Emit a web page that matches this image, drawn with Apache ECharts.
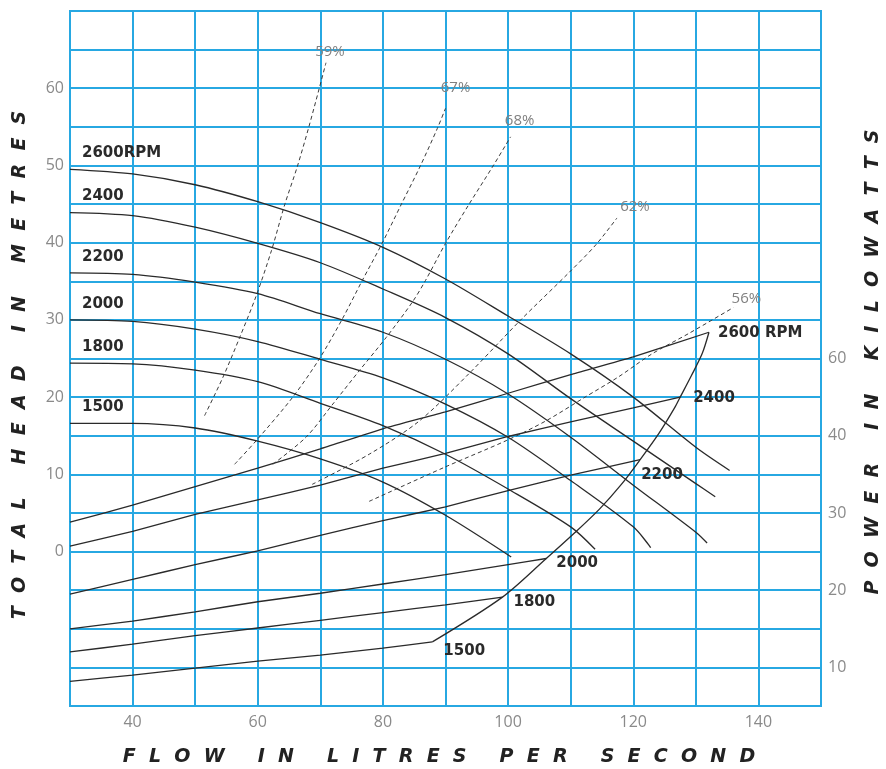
<!DOCTYPE html>
<html><head><meta charset="utf-8">
<script src="https://cdn.jsdelivr.net/npm/echarts@6/dist/echarts.min.js"></script>
<style>html,body{margin:0;padding:0;background:#fff}#c{width:886px;height:769px}</style>
</head><body><div id="c"></div>
<script>
// ---- Head curves (left axis, metres) ----
const head2600Flow = [30,40,50,60,70,80,90,100,110,120,130,135.4];
const head2600 = [49.5,48.9,47.5,45.3,42.6,39.4,35.3,30.5,25.6,20.0,13.5,10.5];
const head2400Flow = [30,40,50,60,70,80,90,100,110,120,130,133.1];
const head2400 = [43.9,43.5,42.0,39.9,37.4,34.0,30.3,25.6,19.8,14.3,8.8,7.1];
const head2200Flow = [30,40,50,60,70,80,90,100,110,120,130,131.8];
const head2200 = [36.1,35.9,34.9,33.4,30.8,28.4,24.9,20.4,14.8,8.6,2.5,1.1];
const head2000Flow = [30,40,50,60,70,80,90,100,110,120,122.8];
const head2000 = [30.0,29.8,28.8,27.2,24.9,22.5,19.1,14.8,9.2,3.2,0.5];
const head1800Flow = [30,40,50,60,70,80,90,100,110,113.9];
const head1800 = [24.4,24.3,23.5,22.0,19.2,16.3,12.6,8.1,3.2,0.3];
const head1500Flow = [30,40,50,60,70,80,90,100.5];
const head1500 = [16.6,16.6,16.0,14.3,12.0,9.0,4.7,-0.7];

// ---- Power curves (right axis, kW) ----
const power2600Flow = [30,40,50,60,70,80,90,100,110,120,132.1];
const power2600 = [28.8,31.0,33.4,35.8,38.3,40.9,43.1,45.5,47.9,50.2,53.4];
const power2400Flow = [30,40,50,60,70,80,90,100,110,120,127.5];
const power2400 = [25.7,27.6,29.8,31.7,33.6,35.8,37.7,39.9,41.8,43.6,45.0];
const power2200Flow = [30,40,50,60,70,80,90,100,110,121.1];
const power2200 = [19.5,21.4,23.3,25.1,27.1,29.0,30.8,32.9,34.9,36.9];
const power2000Flow = [30,40,50,60,70,80,90,100,106.1];
const power2000 = [15.0,16.0,17.2,18.5,19.6,20.8,22.0,23.3,24.1];
const power1800Flow = [30,40,50,60,70,80,90,99.1];
const power1800 = [12.0,13.0,14.1,15.1,16.1,17.1,18.1,19.1];
const power1500Flow = [30,40,50,60,70,80,87.9];
const power1500 = [8.2,9.0,9.9,10.8,11.6,12.5,13.3];

// ---- Envelope through the power curve ends ----
const envelopeFlow = [87.9,99.1,106.1,110.6,114.6,118.1,121.1,124.1,126.6,127.5,129.3,131.0,132.1];
const envelopePower = [13.3,19.1,24.1,27.4,30.5,33.7,36.9,40.3,43.6,45.0,47.8,50.6,53.4];

// ---- Efficiency curves (left axis) ----
const eff59Flow = [51.5,54.4,57.1,59.7,62.2,64.3,66.3,68.1,69.8,70.9];
const eff59Head = [17.6,22.5,27.7,33.0,39.0,44.9,49.8,54.8,59.9,63.3];
const eff67Flow = [56.3,59.8,65.6,69.8,73.5,76.7,79.8,82.9,85.9,88.7,90.0];
const eff67Head = [11.3,14.4,20.0,24.9,30.1,35.1,39.8,44.9,49.8,54.8,57.4];
const eff68Flow = [62.4,67.7,72.0,76.2,80.5,84.7,86.8,90.0,93.7,97.5,100.4];
const eff68Head = [11.3,14.8,19.1,23.4,27.7,32.3,35.1,39.9,44.9,49.8,53.7];
const eff62Flow = [68.7,77.8,85.8,93.7,101.9,109.7,114.0,117.4];
const eff62Head = [8.7,12.6,16.9,23.0,29.9,36.1,39.7,43.2];
const eff56Flow = [77.8,89.8,99.8,106.0,112.3,117.6,123.0,129.0,136.0];
const eff56Head = [6.5,10.9,14.4,16.9,20.0,22.6,25.6,28.3,31.6];

// ---- Labels / ticks ----
const headLabels = ['2600RPM','2400','2200','2000','1800','1500'];
const powerLabels = ['2600 RPM','2400','2200','2000','1800','1500'];
const effLabels = ['59%','67%','68%','62%','56%'];
const xTickLabels = [40,60,80,100,120,140];
const leftTickLabels = [0,10,20,30,40,50,60];
const rightTickValues = [10,20,30,40,50];
const rightTickText = ['10','20','30','40','60'];
const xTitle = 'FLOW IN LITRES PER SECOND';
const leftTitle = 'TOTAL HEAD IN METRES';
const rightTitle = 'POWER IN KILOWATTS';

const BLUE = '#27a8e2';
const INK = '#2a2a2a';
const GRAY = '#8a8a8a';

function spaced(s){
  return s.split(' ').map(w => w.split('').join('  ')).join('     ');
}
function pts(xs, ys){ return xs.map((x,i)=>[x, ys[i]]); }
function labelAt(data, idx, text, lab){
  data[idx] = {value: data[idx], label: Object.assign({show:true, formatter: text}, lab)};
  return data;
}

const rpmFont = {fontFamily:'DejaVu Sans', fontWeight:'bold', fontSize:15, color:INK};
const effFont = {fontFamily:'Open Sans', fontSize:15, color:'#808080'};

function lineSeries(data, axis, extra){
  return Object.assign({
    type:'line', yAxisIndex: axis, data: data, symbol:'circle', symbolSize:0,
    showSymbol:true, silent:true, animation:false, clip:false,
    lineStyle:{color:INK, width:1.3}, itemStyle:{color:INK},
    smooth:0.3
  }, extra||{});
}

const headSets = [[head2600Flow,head2600],[head2400Flow,head2400],[head2200Flow,head2200],
                  [head2000Flow,head2000],[head1800Flow,head1800],[head1500Flow,head1500]];
const powerSets = [[power2600Flow,power2600],[power2400Flow,power2400],[power2200Flow,power2200],
                   [power2000Flow,power2000],[power1800Flow,power1800],[power1500Flow,power1500]];
const powerOffsets = [[9,1],[13,1],[1,15],[10,5],[11,5],[11,9]];
const effSets = [[eff59Flow,eff59Head],[eff67Flow,eff67Head],[eff68Flow,eff68Head],
                 [eff62Flow,eff62Head],[eff56Flow,eff56Head]];
const effOffsets = [[4,-4],[10,-13],[9,-9],[18,-4],[13,-1]];

const series = [];
headSets.forEach((s,i)=>{
  const d = labelAt(pts(s[0],s[1]), 0, headLabels[i],
    Object.assign({position:'right', distance:0, offset:[12,-16], align:'left'}, rpmFont));
  series.push(lineSeries(d, 0));
});
powerSets.forEach((s,i)=>{
  const d = pts(s[0],s[1]);
  labelAt(d, d.length-1, powerLabels[i],
    Object.assign({position:'right', distance:0, offset:powerOffsets[i], align:'left'}, rpmFont));
  series.push(lineSeries(d, 1, {smooth:0.15}));
});
series.push(lineSeries(pts(envelopeFlow, envelopePower), 1, {smooth:0.3}));
effSets.forEach((s,i)=>{
  const d = pts(s[0],s[1]);
  labelAt(d, d.length-1, effLabels[i],
    Object.assign({position:'top', distance:0, offset:effOffsets[i]}, effFont));
  series.push(lineSeries(d, 0, {lineStyle:{color:'#3a3a3a', width:1, type:[4,3]}}));
});

const titleFont = 'italic bold 19px "DejaVu Sans"';
const chart = echarts.init(document.getElementById('c'), null, {renderer:'canvas'});
chart.setOption({
  animation:false,
  backgroundColor:'#ffffff',
  grid:{left:70, right:65, top:11, bottom:63, show:true, borderColor:BLUE, borderWidth:2},
  xAxis:{
    type:'value', min:30, max:150, interval:10,
    axisLine:{show:true, lineStyle:{color:BLUE, width:2}},
    axisTick:{show:false},
    splitLine:{show:true, lineStyle:{color:BLUE, width:2}},
    axisLabel:{margin:8, color:GRAY, fontFamily:'Open Sans', fontSize:16,
      formatter:v => xTickLabels.includes(v) ? String(v) : ''}
  },
  yAxis:[{
    type:'value', min:-20, max:70, interval:5,
    axisLine:{show:true, lineStyle:{color:BLUE, width:2}},
    axisTick:{show:false},
    splitLine:{show:true, lineStyle:{color:BLUE, width:2}},
    axisLabel:{margin:6, color:GRAY, fontFamily:'Open Sans', fontSize:16,
      formatter:v => leftTickLabels.includes(v) ? String(v) : ''}
  },{
    type:'value', position:'right', min:5, max:95, interval:5,
    axisLine:{show:true, lineStyle:{color:BLUE, width:2}},
    axisTick:{show:false},
    splitLine:{show:false},
    axisLabel:{margin:7, color:GRAY, fontFamily:'Open Sans', fontSize:16,
      formatter:v => { const k = rightTickValues.indexOf(v); return k>=0 ? rightTickText[k] : ''; }}
  }],
  graphic:[
    {type:'text', x:20, y:365, rotation:Math.PI/2,
     style:{text:spaced(leftTitle), font:titleFont, fill:'#222', textAlign:'center', textVerticalAlign:'middle', align:'center', verticalAlign:'middle'}},
    {type:'text', x:873, y:362, rotation:Math.PI/2,
     style:{text:spaced(rightTitle), font:titleFont, fill:'#222', textAlign:'center', textVerticalAlign:'middle', align:'center', verticalAlign:'middle'}},
    {type:'text', x:439, y:757,
     style:{text:spaced(xTitle), font:titleFont, fill:'#222', textAlign:'center', textVerticalAlign:'middle', align:'center', verticalAlign:'middle'}}
  ],
  series: series
});
</script>
</body></html>
